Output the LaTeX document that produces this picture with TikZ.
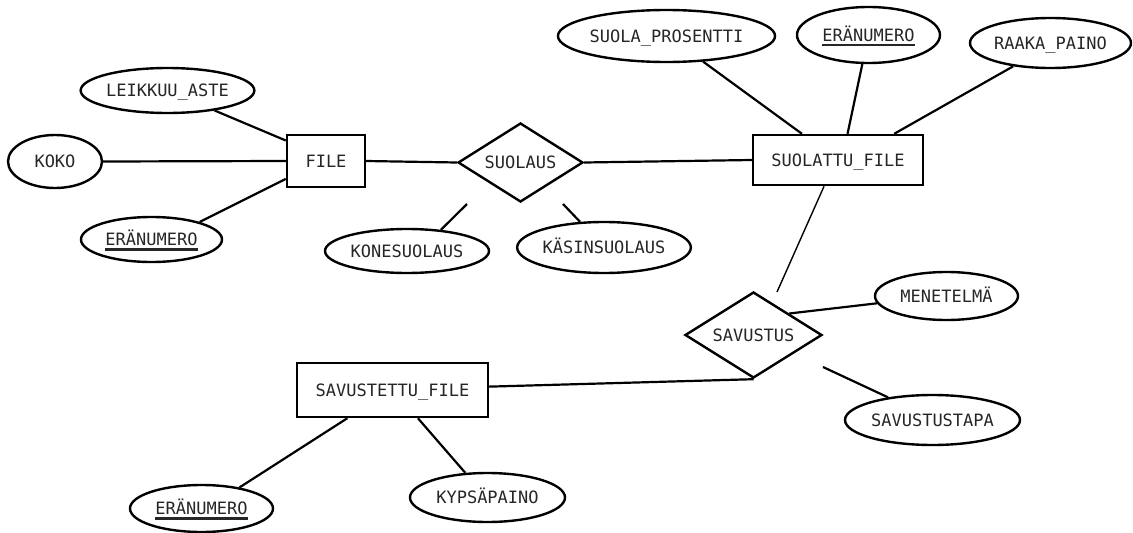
\documentclass[tikz,border=0pt]{standalone}
\usepackage{fontspec}
\setmonofont{DejaVu Sans Mono}
\usetikzlibrary{shapes.geometric}

% underlined key attribute with a heavy rule
\newcommand\keyattr[1]{\setbox0\hbox{#1}\rlap{\copy0}\rule[-5pt]{\wd0}{2.4pt}}

\begin{document}
\begin{tikzpicture}[x=1pt,y=-1pt,
  every node/.style={font=\ttfamily\fontsize{17}{20}\selectfont, text=black!85,
    line width=2.4pt, inner sep=0pt, text height=12pt, text depth=0pt},
  attr/.style={draw, ellipse},
  entity/.style={draw, rectangle},
  rel/.style={draw, diamond, aspect=1.6},
  link/.style={line width=2.2pt},
  thinlink/.style={line width=1.4pt}]
\fill[white] (0,0) rectangle (1133,533);
\useasboundingbox (0,0) rectangle (1133,533);

% entities
\node[entity, minimum width=78, minimum height=52] (file) at (326,161) {FILE};
\node[entity, minimum width=170, minimum height=50] (suolattu) at (838,160) {SUOLATTU\_FILE};
\node[entity, minimum width=191, minimum height=54] (savfile) at (392.5,390) {SAVUSTETTU\_FILE};

% relationships
\node[rel, minimum width=125, minimum height=79] (suolaus) at (520.5,162.5) {SUOLAUS};
\node[rel, minimum width=137, minimum height=86] (savustus) at (753.5,335) {SAVUSTUS};

% attributes
\node[attr, minimum width=173, minimum height=45] (leik) at (167.5,90.5) {LEIKKUU\_ASTE};
\node[attr, minimum width=94, minimum height=53] (koko) at (55,161.5) {KOKO};
\node[attr, minimum width=141, minimum height=45] (era1) at (151.5,239.5) {\keyattr{ERÄNUMERO}};
\node[attr, minimum width=164, minimum height=44] (kone) at (407,251) {KONESUOLAUS};
\node[attr, minimum width=172, minimum height=51] (kasin) at (604,247.5) {KÄSINSUOLAUS};
\node[attr, minimum width=207, minimum height=52] (prosentti) at (666.5,36) {SUOLA\_PROSENTTI};
\node[attr, minimum width=143, minimum height=56] (era2) at (868.5,35) {\keyattr{ERÄNUMERO}};
\node[attr, minimum width=161, minimum height=50] (raaka) at (1050.5,43) {RAAKA\_PAINO};
\node[attr, minimum width=143, minimum height=48] (menetelma) at (946.5,296) {MENETELMÄ};
\node[attr, minimum width=175, minimum height=50] (tapa) at (932.5,420) {SAVUSTUSTAPA};
\node[attr, minimum width=143, minimum height=47] (era3) at (201.5,508.5) {\keyattr{ERÄNUMERO}};
\node[attr, minimum width=155, minimum height=49] (kyps) at (487.5,497.5) {KYPSÄPAINO};

% loose line ends
\coordinate (konetip) at (467,204);
\coordinate (kasintip) at (563,204);
\coordinate (savtip) at (777,292);
\coordinate (taptip) at (823,367);

% connectors
\draw[link] (leik.-23) -- (file.153);
\draw[link] (koko.east) -- (file.west);
\draw[link] (era1.20) -- (file.204);
\draw[link] (file.east) -- (suolaus.west);
\draw[link] (suolaus.east) -- (suolattu.west);
\draw[link] (kone.32) -- (konetip);
\draw[link] (kasin.133) -- (kasintip);
\draw[link] (prosentti.-35) -- (suolattu.144.5);
\draw[link] (era2.258.5) -- (suolattu.70);
\draw[link] (raaka.212) -- (suolattu.25.7);
\draw[thinlink] (suolattu.242.5) -- (savtip);
\draw[link] (savustus.31.7) -- (menetelma.186);
\draw[link] (taptip) -- (tapa.153);
\draw[link] (savfile.2) -- (savustus.south);
\draw[link] (era3.29) -- (savfile.212);
\draw[link] (kyps.132.6) -- (savfile.312);
\end{tikzpicture}
\end{document}
